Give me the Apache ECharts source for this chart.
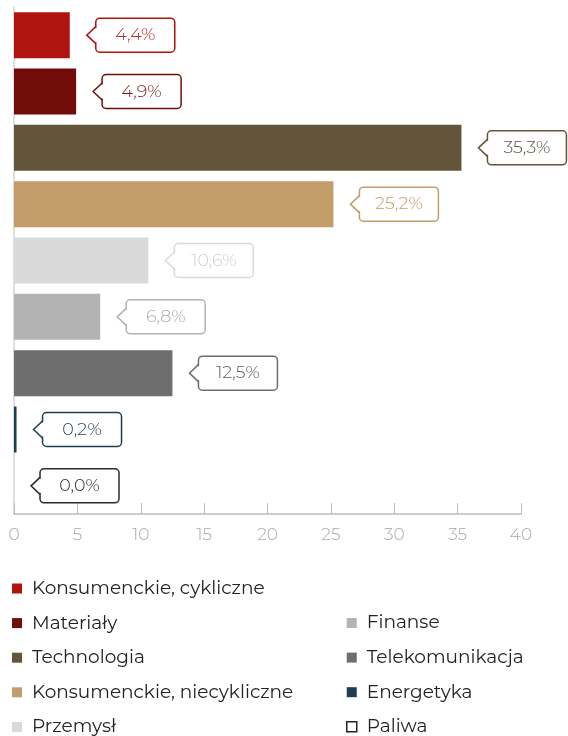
<!DOCTYPE html>
<html><head><meta charset="utf-8">
<script src="https://cdn.jsdelivr.net/npm/echarts/dist/echarts.min.js"></script>
<style>html,body{margin:0;padding:0;background:#fff}#c{width:568px;height:736px}</style>
</head><body><div id="c"></div>
<script>
const categories = ['Konsumenckie, cykliczne','Materiały','Technologia','Konsumenckie, niecykliczne','Przemysł','Finanse','Telekomunikacja','Energetyka','Paliwa'];
const values = [4.4, 4.9, 35.3, 25.2, 10.6, 6.8, 12.5, 0.2, 0.0];
const xTickLabels = ['0','5','10','15','20','25','30','35','40'];
const legendLeft = ['Konsumenckie, cykliczne','Materiały','Technologia','Konsumenckie, niecykliczne','Przemysł'];
const legendRight = ['Finanse','Telekomunikacja','Energetyka','Paliwa'];

const barColors = ['#b0140f','#720c08','#63553a','#c29d69','#d9d9d9','#b3b3b3','#6e6e6e','#1d3d50','#ffffff'];
const boxColors = ['#b0140f','#720c08','#63553a','#c29d69','#d9d9d9','#b3b3b3','#6e6e6e','#1d3d50','#2b2b2b'];
const textColors = ['#b3302b','#7a1d19','#5e5240','#c29d69','#cfcfcf','#ababab','#5a5a5a','#1d3d50','#2b2b2b'];
const FONT = "'Montserrat','Open Sans',sans-serif";

const fmt = v => v.toFixed(1).replace('.', ',') + '%';

const chart = echarts.init(document.getElementById('c'), null, {renderer:'canvas'});

const barSeries = categories.map((name, i) => ({
  name: name,
  type: 'bar',
  stack: 'all',
  barWidth: 46,
  itemStyle: {color: barColors[i]},
  data: values.map((v, j) => j === i ? v : '-'),
  silent: true
}));

const legendItem = name => {
  if (name === 'Paliwa') return {name, itemStyle:{color:'#fff', borderColor:'#222', borderWidth:1.5}};
  return {name};
};

const legendCommon = {
  orient: 'vertical',
  icon: 'rect',
  itemWidth: 10,
  itemHeight: 10,
  itemGap: 14.6,
  height: 200,
  padding: 0,
  textStyle: {fontSize: 18.5, color: '#222', fontFamily: FONT, lineHeight: 20, padding:[0,0,0,5]},
  selectedMode: false
};

chart.setOption({
  animation: false,
  textStyle: {fontFamily: FONT},
  grid: {left: 14, right: 47, top: 7, bottom: 222, containLabel: false},
  legend: [
    Object.assign({left: 12, top: 578.5, data: legendLeft.map(legendItem)}, legendCommon),
    Object.assign({left: 346, top: 613, data: legendRight.map(legendItem)}, legendCommon)
  ],
  xAxis: {
    type: 'value', min: 0, max: 40, interval: 5,
    axisLine: {show: true, lineStyle: {color: '#bdbdbd', width: 1.5}},
    axisTick: {show: true, inside: true, length: 11, lineStyle: {color: '#bdbdbd', width: 1}},
    splitLine: {show: false},
    axisLabel: {color: '#a8a8a8', fontSize: 17, fontWeight: 300, margin: 12, fontFamily: FONT,
      formatter: v => xTickLabels[Math.round(v / 5)]}
  },
  yAxis: {
    type: 'category', data: categories, inverse: true,
    axisLine: {show: true, lineStyle: {color: '#d4d4d4', width: 1.5}},
    axisTick: {show: false}, axisLabel: {show: false}
  },
  series: barSeries.concat([{
    type: 'custom',
    z: 10,
    clip: false,
    silent: true,
    data: values.map((v, i) => [v, i]),
    encode: {x: 0, y: 1},
    renderItem: function (params, api) {
      const v = api.value(0), i = api.value(1);
      const p = api.coord([v, i]);
      const x = p[0], y = p[1];
      const c = boxColors[i], tc = textColors[i];
      const L = x + 26, W = 79, H = 34, tip = x + 17;
      return {type: 'group', children: [
        {type: 'rect', shape: {x: L, y: y - H / 2, width: W, height: H, r: 4}, style: {fill: '#fff', stroke: c, lineWidth: 1.5}},
        {type: 'line', shape: {x1: L, y1: y - 7, x2: L, y2: y + 7}, style: {stroke: '#fff', lineWidth: 3}},
        {type: 'polyline', shape: {points: [[L, y - 8.5], [tip, y], [L, y + 8.5]]}, style: {stroke: c, lineWidth: 1.5, fill: null}},
        {type: 'text', style: {text: fmt(v), x: L + W / 2, y: y, textAlign: 'center', textVerticalAlign: 'middle', fill: tc, fontSize: 17.5, fontWeight: 300, fontFamily: FONT}}
      ]};
    }
  }])
});
</script>
</body></html>
